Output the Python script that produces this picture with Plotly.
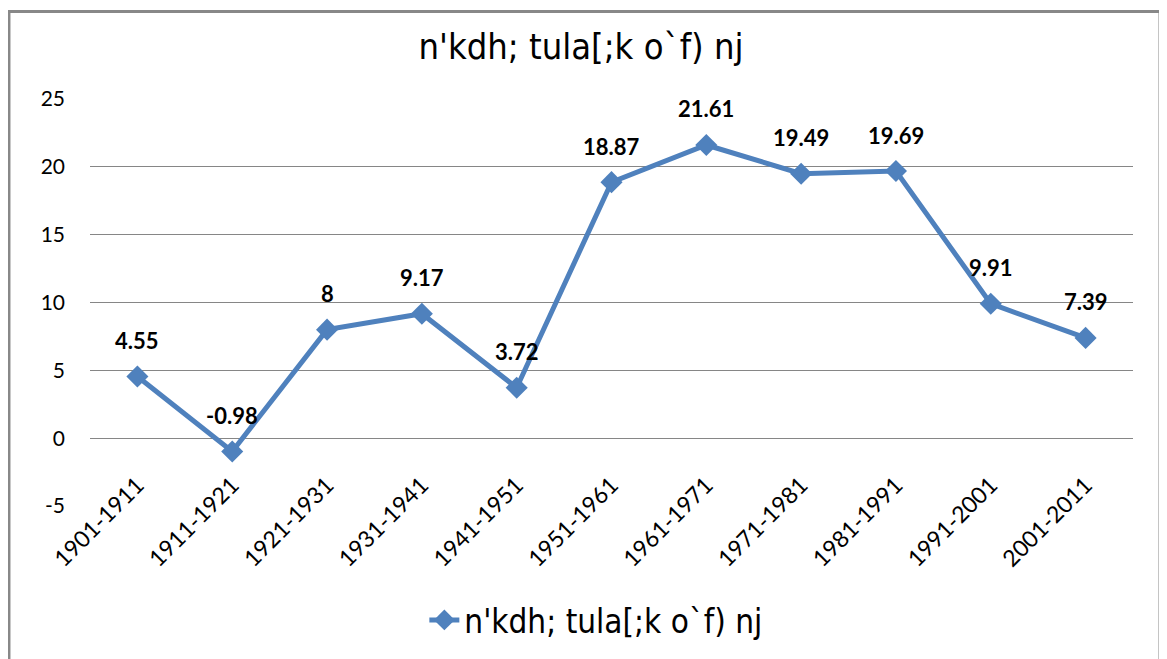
import plotly.graph_objects as go

categories = ["1901-1911", "1911-1921", "1921-1931", "1931-1941", "1941-1951",
              "1951-1961", "1961-1971", "1971-1981", "1981-1991", "1991-2001", "2001-2011"]
values = [4.55, -0.98, 8, 9.17, 3.72, 18.87, 21.61, 19.49, 19.69, 9.91, 7.39]
label_texts = ["4.55", "-0.98", "8", "9.17", "3.72", "18.87", "21.61", "19.49", "19.69", "9.91", "7.39"]
series_name = "n'kdh; tula[;k o`f) nj"
title_text = "n'kdh; tula[;k o`f) nj"
y_ticks = [-5, 0, 5, 10, 15, 20, 25]
y_tick_text = ["-5", "0", "5", "10", "15", "20", "25"]

BLUE = "#4F81BD"
FONT = "Lato, Open Sans, sans-serif"
TFONT = "DejaVu Sans Condensed, Liberation Sans Narrow, Roboto, sans-serif"

fig = go.Figure()
fig.add_trace(go.Scatter(
    x=categories, y=values, mode="lines+markers", name=series_name,
    line=dict(color=BLUE, width=5),
    marker=dict(symbol="diamond", size=17, color=BLUE),
))

for c, v, t in zip(categories, values, label_texts):
    fig.add_annotation(x=c, y=v, text=t, showarrow=False, yshift=36,
                       font=dict(family=FONT, size=22, color="black", weight="bold"))

fig.add_shape(type="rect", xref="paper", yref="paper",
              x0=-0.0777, x1=1.0259, y0=-0.40, y1=1.215,
              line=dict(color="#888888", width=3), fillcolor="rgba(0,0,0,0)")

fig.update_layout(
    width=1167, height=659,
    paper_bgcolor="white", plot_bgcolor="white",
    margin=dict(l=82, r=42, t=91, b=161, autoexpand=False),
    title=dict(text=title_text, x=0.491, xanchor="center", y=0.941, yanchor="middle",
               automargin=False,
               font=dict(family=TFONT, size=36, color="black")),
    showlegend=True,
    legend=dict(orientation="h", x=0.485, xanchor="center", y=-0.28, yanchor="middle",
                font=dict(family=TFONT, size=33, color="black")),
    xaxis=dict(type="category", range=[-0.5, 10.5], anchor="free", position=5/30,
               tickangle=-45, showgrid=False, showline=False, ticks="", automargin=False,
               ticklabelstandoff=28,
               tickfont=dict(family=FONT, size=23, color="black")),
    yaxis=dict(range=[-5, 25], tickvals=y_ticks, ticktext=y_tick_text,
               showgrid=True, gridcolor="#868686",
               gridwidth=1, zeroline=False, showline=False, ticks="", automargin=False,
               tickfont=dict(family=FONT, size=21, color="black"), ticklabelstandoff=24),
)

fig.write_html("out.html")
